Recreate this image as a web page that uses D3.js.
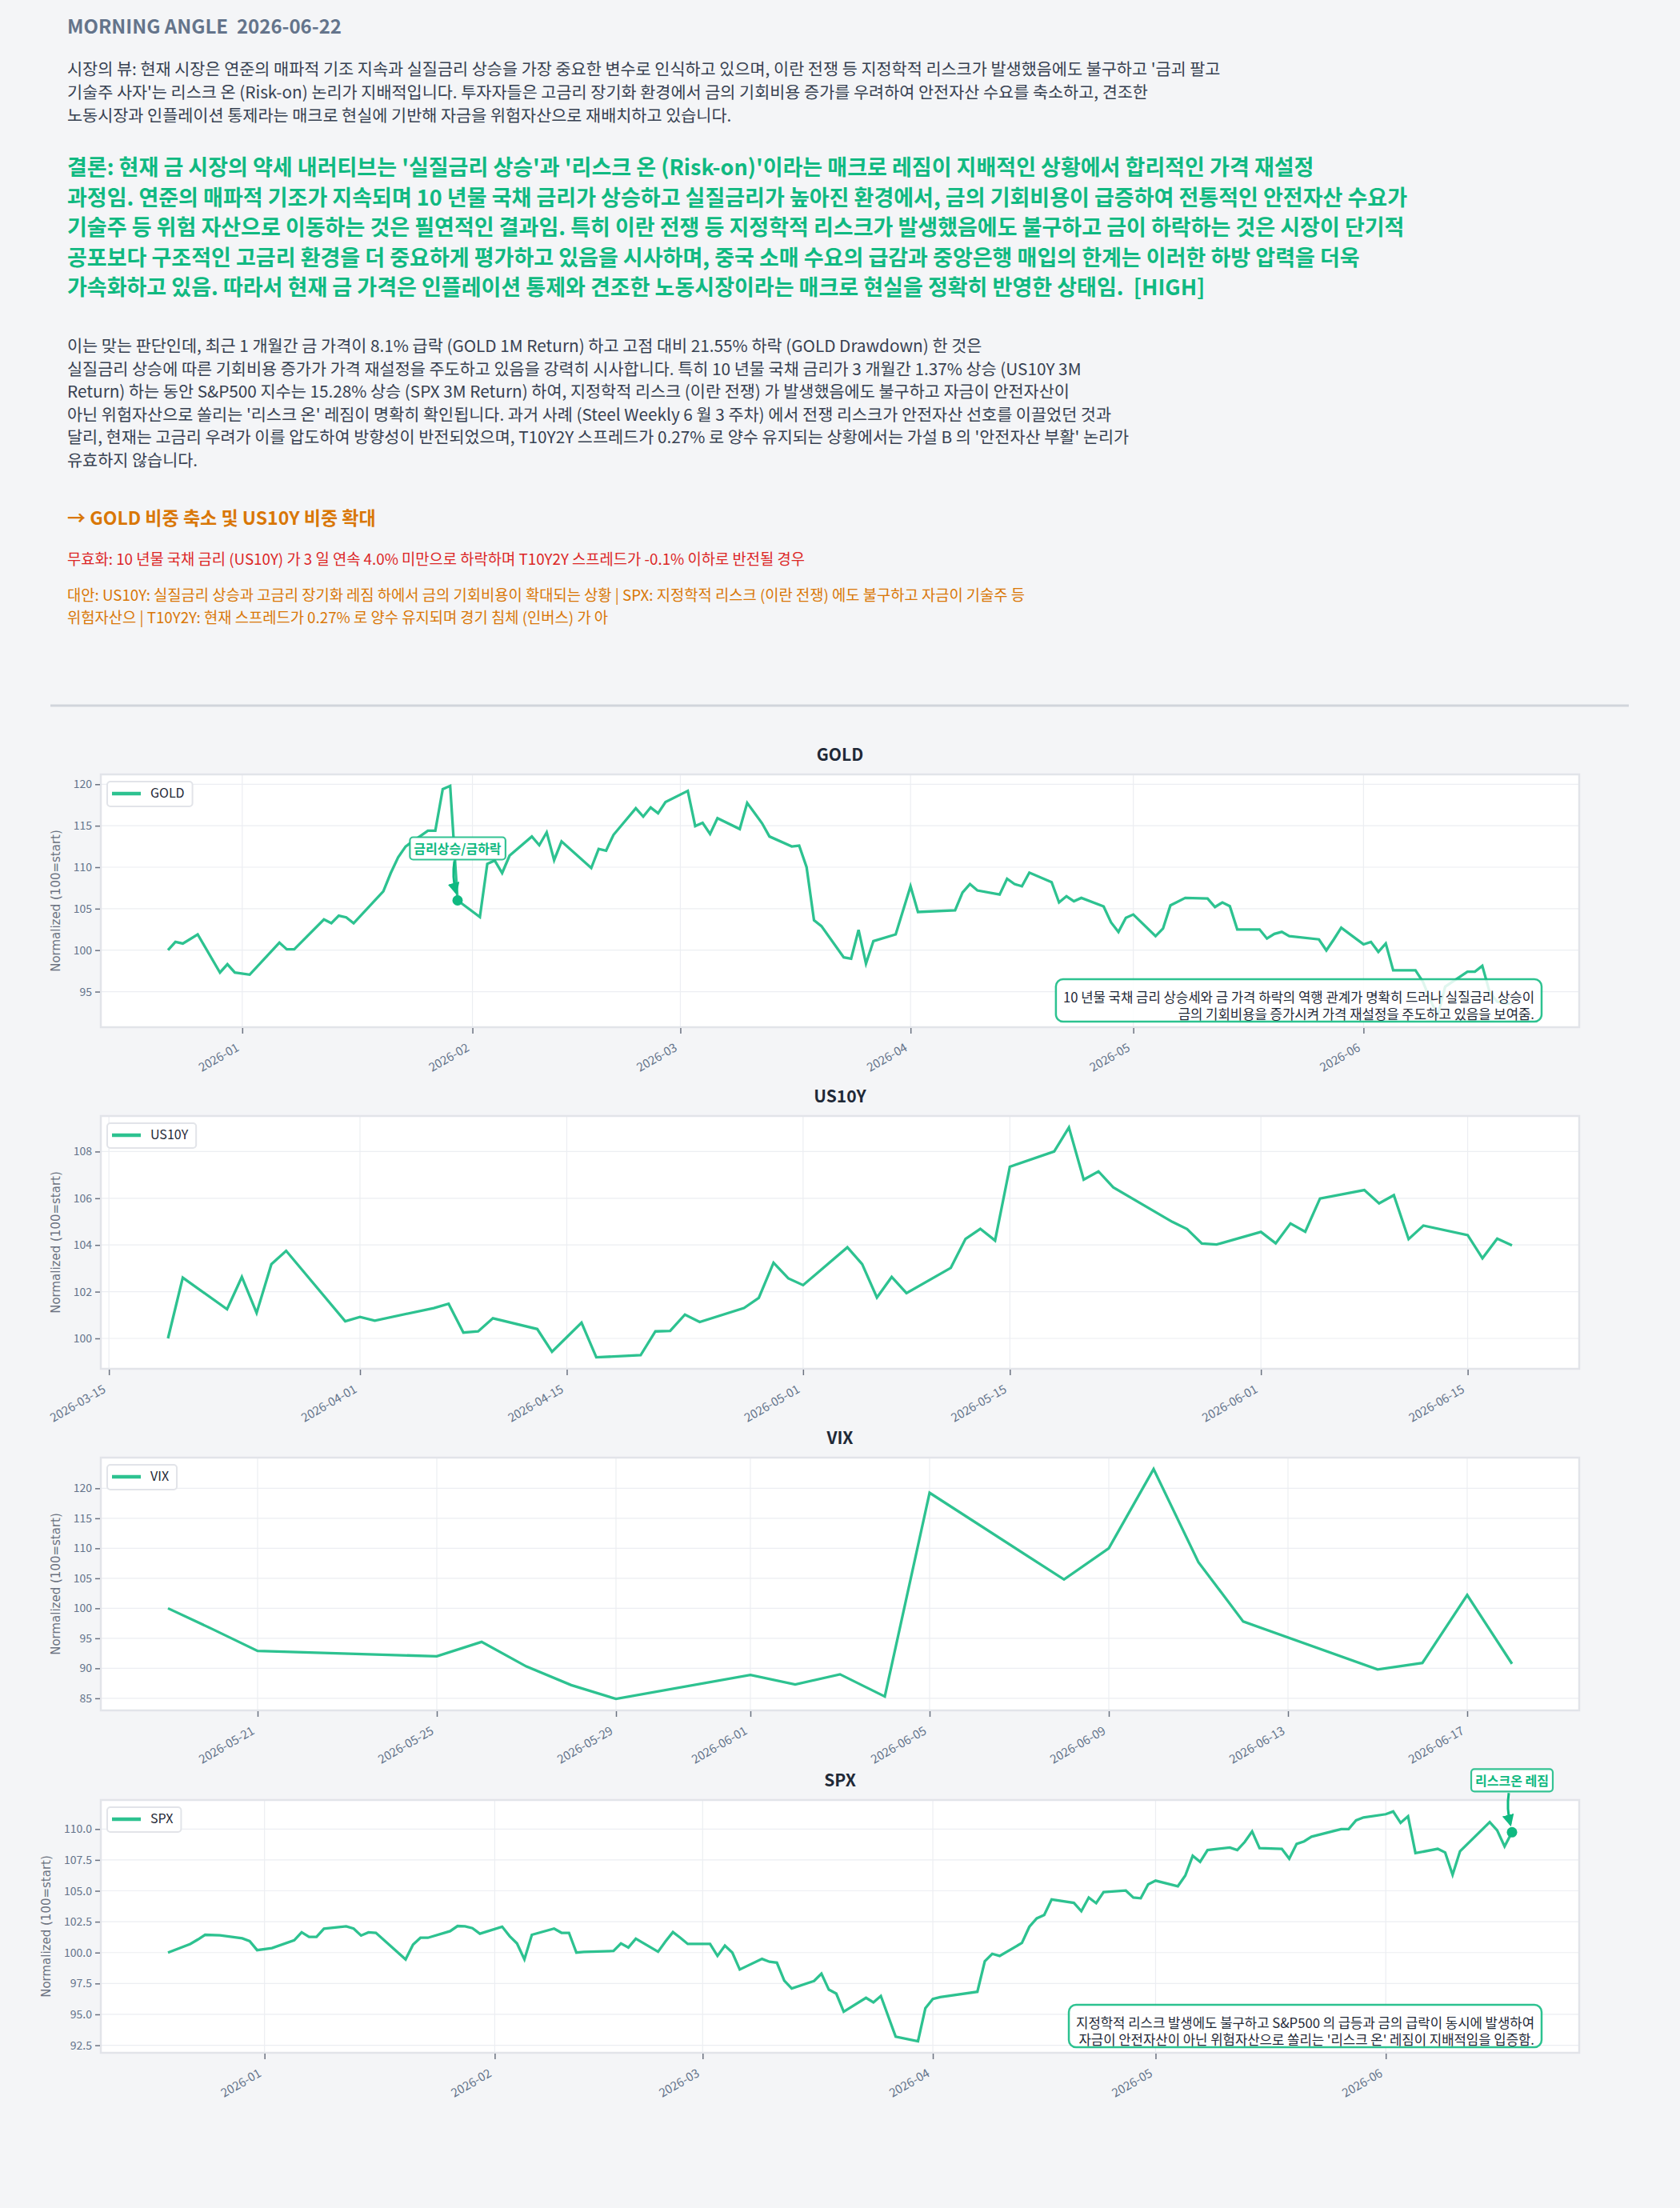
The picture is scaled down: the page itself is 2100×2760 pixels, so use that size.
<!DOCTYPE html>
<html><head><meta charset="utf-8">
<script src="https://cdn.jsdelivr.net/npm/d3@7"></script>
<style>
html,body{margin:0;padding:0;background:#f4f5f7;}
svg{display:block;font-family:"Noto Sans CJK KR","Noto Sans",sans-serif;}
</style></head><body>
<svg id="chart" width="2100" height="2760"></svg>
<script>
// ---------------- DATA ----------------
const goldDates = ["2025-12-22","2025-12-23","2025-12-24","2025-12-26","2025-12-29","2025-12-30","2025-12-31","2026-01-02","2026-01-06","2026-01-07","2026-01-08","2026-01-12","2026-01-13","2026-01-14","2026-01-15","2026-01-16","2026-01-20","2026-01-21","2026-01-22","2026-01-23","2026-01-26","2026-01-27","2026-01-28","2026-01-29","2026-01-30","2026-02-02","2026-02-03","2026-02-04","2026-02-05","2026-02-06","2026-02-09","2026-02-10","2026-02-11","2026-02-12","2026-02-13","2026-02-17","2026-02-18","2026-02-19","2026-02-20","2026-02-23","2026-02-24","2026-02-25","2026-02-26","2026-02-27","2026-03-02","2026-03-03","2026-03-04","2026-03-05","2026-03-06","2026-03-09","2026-03-10","2026-03-12","2026-03-13","2026-03-16","2026-03-17","2026-03-18","2026-03-19","2026-03-20","2026-03-23","2026-03-24","2026-03-25","2026-03-26","2026-03-27","2026-03-30","2026-04-01","2026-04-02","2026-04-07","2026-04-08","2026-04-09","2026-04-10","2026-04-13","2026-04-14","2026-04-15","2026-04-16","2026-04-17","2026-04-20","2026-04-21","2026-04-22","2026-04-23","2026-04-24","2026-04-27","2026-04-28","2026-04-29","2026-04-30","2026-05-01","2026-05-04","2026-05-05","2026-05-06","2026-05-08","2026-05-11","2026-05-12","2026-05-13","2026-05-14","2026-05-15","2026-05-18","2026-05-19","2026-05-20","2026-05-21","2026-05-22","2026-05-26","2026-05-27","2026-05-28","2026-05-29","2026-06-01","2026-06-02","2026-06-03","2026-06-04","2026-06-05","2026-06-08","2026-06-09","2026-06-10","2026-06-11","2026-06-12","2026-06-15","2026-06-16","2026-06-17","2026-06-18","2026-06-19","2026-06-21"];
const goldValues = [100.0,101.0,100.8,101.9,97.3,98.3,97.3,97.05,100.9,100.1,100.1,103.7,103.25,104.15,103.95,103.25,107.1,109.3,111.2,112.5,114.4,114.4,119.4,119.8,106.0,104.0,110.4,110.8,109.3,111.4,113.7,112.65,114.2,110.85,113.1,109.9,112.2,112.0,113.9,117.1,116.1,117.2,116.5,117.85,119.2,114.96,115.35,114.0,115.9,114.6,117.75,115.3,113.7,112.5,112.6,110.0,103.6,102.9,99.14,98.98,102.45,98.37,101.1,101.9,107.7,104.6,104.8,106.94,107.97,107.2,106.7,108.6,107.97,107.7,109.35,108.2,105.75,106.5,105.9,106.3,105.27,103.35,102.2,103.9,104.3,101.7,102.6,105.4,106.3,106.23,105.2,105.75,105.3,102.5,102.5,101.4,101.96,102.2,101.7,101.3,99.97,101.3,102.7,100.7,101.0,99.8,100.8,97.57,97.57,96.2,94.0,92.1,95.6,97.4,97.4,98.1,94.9,93.8,93.5];

const us10yDates = ["2026-03-19","2026-03-20","2026-03-23","2026-03-24","2026-03-25","2026-03-26","2026-03-27","2026-03-31","2026-04-01","2026-04-02","2026-04-06","2026-04-07","2026-04-08","2026-04-09","2026-04-10","2026-04-13","2026-04-14","2026-04-15","2026-04-16","2026-04-17","2026-04-20","2026-04-21","2026-04-22","2026-04-23","2026-04-24","2026-04-27","2026-04-28","2026-04-29","2026-04-30","2026-05-01","2026-05-04","2026-05-05","2026-05-06","2026-05-07","2026-05-08","2026-05-11","2026-05-12","2026-05-13","2026-05-14","2026-05-15","2026-05-18","2026-05-19","2026-05-20","2026-05-21","2026-05-22","2026-05-26","2026-05-27","2026-05-28","2026-05-29","2026-06-01","2026-06-02","2026-06-03","2026-06-04","2026-06-05","2026-06-08","2026-06-09","2026-06-10","2026-06-11","2026-06-12","2026-06-15","2026-06-16","2026-06-17","2026-06-18"];
const us10yValues = [100.0,102.6,101.25,102.63,101.09,103.18,103.75,100.73,100.92,100.76,101.3,101.48,100.25,100.3,100.86,100.4,99.43,100.05,100.67,99.19,99.28,100.3,100.32,101.02,100.7,101.3,101.73,103.24,102.57,102.28,103.9,103.18,101.75,102.63,101.94,103.02,104.26,104.69,104.19,107.35,108.0,109.03,106.8,107.15,106.47,104.99,104.68,104.06,104.02,104.56,104.07,104.92,104.57,105.99,106.35,105.78,106.13,104.25,104.83,104.42,103.43,104.27,103.98];

const vixDates = ["2026-05-19","2026-05-20","2026-05-21","2026-05-25","2026-05-26","2026-05-27","2026-05-28","2026-05-29","2026-06-01","2026-06-02","2026-06-03","2026-06-04","2026-06-05","2026-06-08","2026-06-09","2026-06-10","2026-06-11","2026-06-12","2026-06-15","2026-06-16","2026-06-17","2026-06-18"];
const vixValues = [100.0,96.5,92.9,92.0,94.4,90.3,87.2,84.9,88.9,87.3,89.0,85.3,119.25,104.8,110.0,123.2,107.7,97.8,89.8,90.9,102.2,90.75];

const spxDates = ["2025-12-19","2025-12-22","2025-12-23","2025-12-24","2025-12-26","2025-12-29","2025-12-30","2025-12-31","2026-01-02","2026-01-05","2026-01-06","2026-01-07","2026-01-08","2026-01-09","2026-01-12","2026-01-13","2026-01-14","2026-01-15","2026-01-16","2026-01-20","2026-01-21","2026-01-22","2026-01-23","2026-01-26","2026-01-27","2026-01-28","2026-01-29","2026-01-30","2026-02-02","2026-02-03","2026-02-04","2026-02-05","2026-02-06","2026-02-09","2026-02-10","2026-02-11","2026-02-12","2026-02-13","2026-02-17","2026-02-18","2026-02-19","2026-02-20","2026-02-23","2026-02-24","2026-02-25","2026-02-26","2026-02-27","2026-03-02","2026-03-03","2026-03-04","2026-03-05","2026-03-06","2026-03-09","2026-03-10","2026-03-11","2026-03-12","2026-03-13","2026-03-16","2026-03-17","2026-03-18","2026-03-19","2026-03-20","2026-03-23","2026-03-24","2026-03-25","2026-03-27","2026-03-30","2026-03-31","2026-04-01","2026-04-02","2026-04-07","2026-04-08","2026-04-09","2026-04-10","2026-04-13","2026-04-14","2026-04-15","2026-04-16","2026-04-17","2026-04-20","2026-04-21","2026-04-22","2026-04-23","2026-04-24","2026-04-27","2026-04-28","2026-04-29","2026-04-30","2026-05-01","2026-05-04","2026-05-05","2026-05-06","2026-05-07","2026-05-08","2026-05-11","2026-05-12","2026-05-13","2026-05-14","2026-05-15","2026-05-18","2026-05-19","2026-05-20","2026-05-21","2026-05-22","2026-05-26","2026-05-27","2026-05-28","2026-05-29","2026-06-01","2026-06-02","2026-06-03","2026-06-04","2026-06-05","2026-06-08","2026-06-09","2026-06-10","2026-06-11","2026-06-15","2026-06-16","2026-06-17","2026-06-18"];
const spxValues = [100.0,100.7,101.05,101.44,101.4,101.15,100.93,100.2,100.37,101.0,101.64,101.27,101.27,101.94,102.13,101.94,101.38,101.64,101.6,99.45,100.65,101.2,101.2,101.74,102.15,102.13,101.98,101.53,102.1,101.34,100.74,99.45,101.44,101.94,101.6,101.6,100.0,100.05,100.13,100.74,100.41,101.12,100.07,100.9,101.66,101.2,100.7,100.7,99.73,100.56,100.0,98.63,99.49,99.26,99.19,97.73,97.09,97.7,98.29,97.0,96.68,95.22,96.34,95.97,96.49,93.19,92.82,95.5,96.25,96.4,96.83,99.3,99.9,99.73,100.78,102.09,102.77,103.05,104.3,104.02,103.35,104.45,104.0,104.9,105.02,104.45,104.4,105.52,105.82,105.37,106.23,107.83,107.34,108.3,108.5,108.3,108.95,109.8,108.46,108.4,107.6,108.8,109.0,109.38,110.0,110.0,110.7,110.94,111.2,111.42,110.5,111.03,108.05,108.4,108.1,106.3,108.2,110.56,109.9,108.6,109.74];

const goldYTicks = [95,100,105,110,115,120];
const us10yYTicks = [100,102,104,106,108];
const vixYTicks = [85,90,95,100,105,110,115,120];
const spxYTicks = [92.5,95,97.5,100,102.5,105,107.5,110];
const goldXTicks = ["2026-01-01","2026-02-01","2026-03-01","2026-04-01","2026-05-01","2026-06-01"];
const us10yXTicks = ["2026-03-15","2026-04-01","2026-04-15","2026-05-01","2026-05-15","2026-06-01","2026-06-15"];
const vixXTicks = ["2026-05-21","2026-05-25","2026-05-29","2026-06-01","2026-06-05","2026-06-09","2026-06-13","2026-06-17"];
const spxXTicks = goldXTicks;

// ---------------- TEXT ----------------
const headTitle = "MORNING ANGLE  2026-06-22";
const viewLines = [
"시장의 뷰: 현재 시장은 연준의 매파적 기조 지속과 실질금리 상승을 가장 중요한 변수로 인식하고 있으며, 이란 전쟁 등 지정학적 리스크가 발생했음에도 불구하고 '금괴 팔고",
"기술주 사자'는 리스크 온 (Risk-on) 논리가 지배적입니다. 투자자들은 고금리 장기화 환경에서 금의 기회비용 증가를 우려하여 안전자산 수요를 축소하고, 견조한",
"노동시장과 인플레이션 통제라는 매크로 현실에 기반해 자금을 위험자산으로 재배치하고 있습니다."];
const conclusionLines = [
"결론: 현재 금 시장의 약세 내러티브는 '실질금리 상승'과 '리스크 온 (Risk-on)'이라는 매크로 레짐이 지배적인 상황에서 합리적인 가격 재설정",
"과정임. 연준의 매파적 기조가 지속되며 10 년물 국채 금리가 상승하고 실질금리가 높아진 환경에서, 금의 기회비용이 급증하여 전통적인 안전자산 수요가",
"기술주 등 위험 자산으로 이동하는 것은 필연적인 결과임. 특히 이란 전쟁 등 지정학적 리스크가 발생했음에도 불구하고 금이 하락하는 것은 시장이 단기적",
"공포보다 구조적인 고금리 환경을 더 중요하게 평가하고 있음을 시사하며, 중국 소매 수요의 급감과 중앙은행 매입의 한계는 이러한 하방 압력을 더욱",
"가속화하고 있음. 따라서 현재 금 가격은 인플레이션 통제와 견조한 노동시장이라는 매크로 현실을 정확히 반영한 상태임.  [HIGH]"];
const judgeLines = [
"이는 맞는 판단인데, 최근 1 개월간 금 가격이 8.1% 급락 (GOLD 1M Return) 하고 고점 대비 21.55% 하락 (GOLD Drawdown) 한 것은",
"실질금리 상승에 따른 기회비용 증가가 가격 재설정을 주도하고 있음을 강력히 시사합니다. 특히 10 년물 국채 금리가 3 개월간 1.37% 상승 (US10Y 3M",
"Return) 하는 동안 S&P500 지수는 15.28% 상승 (SPX 3M Return) 하여, 지정학적 리스크 (이란 전쟁) 가 발생했음에도 불구하고 자금이 안전자산이",
"아닌 위험자산으로 쏠리는 '리스크 온' 레짐이 명확히 확인됩니다. 과거 사례 (Steel Weekly 6 월 3 주차) 에서 전쟁 리스크가 안전자산 선호를 이끌었던 것과",
"달리, 현재는 고금리 우려가 이를 압도하여 방향성이 반전되었으며, T10Y2Y 스프레드가 0.27% 로 양수 유지되는 상황에서는 가설 B 의 '안전자산 부활' 논리가",
"유효하지 않습니다."];
const actionText = "→ GOLD 비중 축소 및 US10Y 비중 확대";
const invalidText = "무효화: 10 년물 국채 금리 (US10Y) 가 3 일 연속 4.0% 미만으로 하락하며 T10Y2Y 스프레드가 -0.1% 이하로 반전될 경우";
const altLines = [
"대안: US10Y: 실질금리 상승과 고금리 장기화 레짐 하에서 금의 기회비용이 확대되는 상황 | SPX: 지정학적 리스크 (이란 전쟁) 에도 불구하고 자금이 기술주 등",
"위험자산으 | T10Y2Y: 현재 스프레드가 0.27% 로 양수 유지되며 경기 침체 (인버스) 가 아"];
const goldNote = ["10 년물 국채 금리 상승세와 금 가격 하락의 역행 관계가 명확히 드러나 실질금리 상승이","금의 기회비용을 증가시켜 가격 재설정을 주도하고 있음을 보여줌."];
const spxNote = ["지정학적 리스크 발생에도 불구하고 S&P500 의 급등과 금의 급락이 동시에 발생하여","자금이 안전자산이 아닌 위험자산으로 쏠리는 '리스크 온' 레짐이 지배적임을 입증함."];

// ---------------- DRAW ----------------
const svg = d3.select("#chart");
const GREEN = "#10b981";
const parse = d3.utcParse("%Y-%m-%d");

function textLines(arr, x, y0, lh, size, weight, color) {
  arr.forEach((t, i) => svg.append("text").attr("x", x).attr("y", y0 + i * lh)
    .attr("font-size", size).attr("font-weight", weight).attr("fill", color)
    .style("white-space", "pre").text(t));
}

textLines([headTitle], 84, 42, 0, 24, 700, "#64748b");
textLines(viewLines, 84, 94, 29, 20.75, 400, "#374151");
textLines(conclusionLines, 84, 219, 37.5, 27, 700, GREEN);
textLines(judgeLines, 84, 440, 28.5, 20.75, 400, "#374151");
textLines([actionText], 84, 656, 0, 23, 700, "#d97706");
textLines([invalidText], 84, 706, 0, 18.75, 400, "#dc2626");
textLines(altLines, 84, 751, 28, 18.75, 400, "#d97706");

svg.append("line").attr("x1", 63).attr("x2", 2036).attr("y1", 882).attr("y2", 882)
  .attr("stroke", "#d1d5db").attr("stroke-width", 3);

const defs = svg.append("defs");
defs.append("marker").attr("id", "arrow").attr("viewBox", "0 0 10 10")
  .attr("refX", 8).attr("refY", 5).attr("markerWidth", 5).attr("markerHeight", 5)
  .attr("orient", "auto").append("path").attr("d", "M0,0 L10,5 L0,10 z").attr("fill", GREEN);

function drawPanel(o) {
  const left = 126, right = 1974, top = o.top, bottom = o.top + 316;
  const ds = o.dates.map(parse);
  const ext = d3.extent(ds), span = ext[1] - ext[0];
  const x = d3.scaleUtc().domain([new Date(+ext[0] - 0.05 * span), new Date(+ext[1] + 0.05 * span)]).range([left, right]);
  const ve = d3.extent(o.values), vs = ve[1] - ve[0];
  const y = d3.scaleLinear().domain([ve[0] - 0.05 * vs, ve[1] + 0.05 * vs]).range([bottom, top]);
  const g = svg.append("g");

  g.append("text").attr("x", (left + right) / 2).attr("y", top - 17).attr("text-anchor", "middle")
    .attr("font-size", 21).attr("font-weight", 700).attr("fill", "#1f2937").text(o.title);

  g.append("rect").attr("x", left).attr("y", top).attr("width", right - left).attr("height", bottom - top)
    .attr("fill", "#fff");
  const xt = o.xTicks.map(parse);
  g.selectAll(".gy").data(o.yTicks).join("line").attr("x1", left).attr("x2", right)
    .attr("y1", d => y(d)).attr("y2", d => y(d)).attr("stroke", "#eceef2").attr("stroke-width", 1.2);
  g.selectAll(".gx").data(xt).join("line").attr("y1", top).attr("y2", bottom)
    .attr("x1", d => x(d)).attr("x2", d => x(d)).attr("stroke", "#eceef2").attr("stroke-width", 1.2);
  g.append("rect").attr("x", left).attr("y", top).attr("width", right - left).attr("height", bottom - top)
    .attr("fill", "none").attr("stroke", "#e2e4e9").attr("stroke-width", 2.5);

  const ya = g.append("g").attr("transform", `translate(${left - 1},0)`)
    .call(d3.axisLeft(y).tickValues(o.yTicks).tickFormat(o.yFmt).tickSize(6).tickPadding(4));
  ya.select(".domain").remove();
  ya.selectAll("line").attr("stroke", "#6b7280").attr("stroke-width", 1.5);
  ya.selectAll("text").attr("fill", "#64748b").attr("font-size", 14)
    .style("font-family", '"Noto Sans CJK KR",sans-serif');

  const xa = g.append("g").attr("transform", `translate(0,${bottom + 1})`)
    .call(d3.axisBottom(x).tickValues(xt).tickFormat(d3.utcFormat(o.xFmt)).tickSize(7));
  xa.select(".domain").remove();
  xa.selectAll("line").attr("stroke", "#6b7280").attr("stroke-width", 1.5);
  xa.selectAll("text").attr("fill", "#64748b").attr("font-size", 15)
    .style("font-family", '"Noto Sans CJK KR",sans-serif')
    .attr("y", 0).attr("dy", "0.35em").attr("text-anchor", "end")
    .attr("transform", "translate(-6,23) rotate(-30)");

  let minX = left;
  ya.selectAll("text").each(function () { const b = this.getBBox(); const ctm = this.getCTM(); minX = Math.min(minX, b.x + ctm.e); });
  g.append("text").attr("transform", `translate(${minX - 22},${(top + bottom) / 2}) rotate(-90)`)
    .attr("text-anchor", "middle").attr("dy", "0.35em").attr("font-size", 15)
    .style("font-family", '"DejaVu Sans",sans-serif').attr("fill", "#6b7280").text("Normalized (100=start)");

  const line = d3.line().x((d, i) => x(ds[i])).y(d => y(d));
  g.append("path").datum(o.values).attr("d", line).attr("fill", "none")
    .attr("stroke", GREEN).attr("stroke-opacity", 0.88).attr("stroke-width", 3.3)
    .attr("stroke-linejoin", "miter");

  // legend
  const lg = g.append("g");
  const lt = lg.append("text").attr("x", left + 62).attr("y", top + 29).attr("font-size", 16)
    .attr("fill", "#1f2937").text(o.title);
  const lw = lt.node().getComputedTextLength();
  lg.insert("rect", "text").attr("x", left + 8).attr("y", top + 9).attr("width", lw + 64).attr("height", 31)
    .attr("rx", 4).attr("fill", "#fff").attr("stroke", "#e2e4e9").attr("stroke-width", 2);
  lg.append("line").attr("x1", left + 14).attr("x2", left + 50).attr("y1", top + 24).attr("y2", top + 24)
    .attr("stroke", GREEN).attr("stroke-opacity", 0.88).attr("stroke-width", 4.5);

  // note box
  if (o.note) {
    const ng = g.append("g");
    const tx = ng.append("text").attr("text-anchor", "end").attr("font-size", 16.7).attr("fill", "#1f2937");
    o.note.forEach((t, i) => tx.append("tspan").attr("x", right - 56).attr("y", bottom - 31 + i * 21).text(t));
    const b = tx.node().getBBox();
    ng.insert("rect", "text").attr("x", b.x - 9).attr("y", bottom - 60).attr("width", b.width + 18).attr("height", 53)
      .attr("rx", 9).attr("fill", "#fff").attr("fill-opacity", 0.85).attr("stroke", GREEN).attr("stroke-opacity", 0.88).attr("stroke-width", 2.5);
  }

  // callout
  if (o.callout) {
    const i = o.dates.indexOf(o.callout.date);
    const px = x(ds[i]), py = y(o.values[i]);
    const cg = g.append("g");
    const ct = cg.append("text").attr("x", px).attr("y", py - 58).attr("text-anchor", "middle")
      .attr("font-size", 16).attr("font-weight", 700).attr("fill", GREEN).text(o.callout.label);
    const b = ct.node().getBBox();
    cg.insert("rect", "text").attr("x", b.x - 5).attr("y", b.y - 2).attr("width", b.width + 10).attr("height", b.height + 4)
      .attr("rx", 4).attr("fill", "#fff").attr("stroke", GREEN).attr("stroke-opacity", 0.85).attr("stroke-width", 2.2);
    const y0 = b.y + b.height + 4, y1 = py - 10;
    cg.append("path").attr("d", `M${px - 4},${y0} Q${px - 7},${(y0 + y1) / 2} ${px - 2},${y1}`)
      .attr("fill", "none").attr("stroke", GREEN).attr("stroke-width", 3).attr("marker-end", "url(#arrow)");
    cg.append("circle").attr("cx", px).attr("cy", py).attr("r", 6.5).attr("fill", GREEN);
  }
}

drawPanel({ title: "GOLD", top: 968, dates: goldDates, values: goldValues, yTicks: goldYTicks, yFmt: d3.format("d"),
  xTicks: goldXTicks, xFmt: "%Y-%m", note: goldNote, callout: { date: "2026-01-30", label: "금리상승/금하락" } });
drawPanel({ title: "US10Y", top: 1395, dates: us10yDates, values: us10yValues, yTicks: us10yYTicks, yFmt: d3.format("d"),
  xTicks: us10yXTicks, xFmt: "%Y-%m-%d" });
drawPanel({ title: "VIX", top: 1822, dates: vixDates, values: vixValues, yTicks: vixYTicks, yFmt: d3.format("d"),
  xTicks: vixXTicks, xFmt: "%Y-%m-%d" });
drawPanel({ title: "SPX", top: 2250, dates: spxDates, values: spxValues, yTicks: spxYTicks, yFmt: d3.format(".1f"),
  xTicks: spxXTicks, xFmt: "%Y-%m", note: spxNote, callout: { date: "2026-06-18", label: "리스크온 레짐" } });
</script>
</body></html>
